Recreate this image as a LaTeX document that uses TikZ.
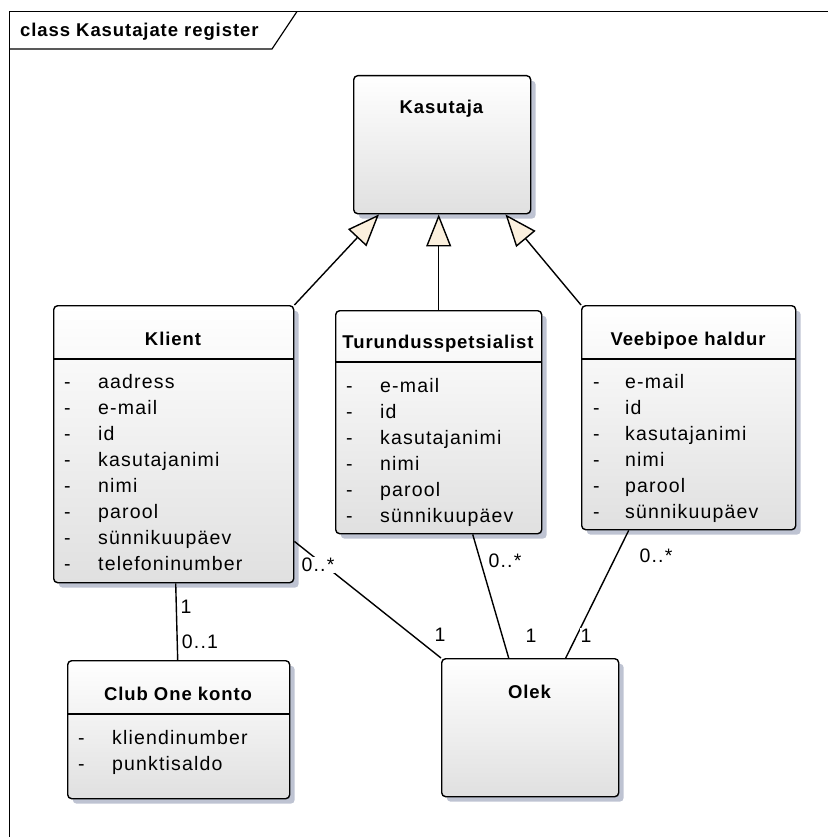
\documentclass[tikz,border=0pt]{standalone}
\usepackage{fontspec}
\setmainfont{Liberation Sans}
\newfontfamily\umlfont{Liberation Sans}[LetterSpace=6]
\newfontfamily\umlboldfont{Liberation Sans}[LetterSpace=5]
\usetikzlibrary{arrows.meta,shadows,calc}

\definecolor{shadowblue}{RGB}{190,195,210}
\definecolor{boxgray}{RGB}{224,224,224}
\definecolor{gencream}{RGB}{251,240,222}

\tikzset{
  classbox/.style={draw=black, line width=1.4pt, rounded corners=4pt,
    top color=white, bottom color=boxgray,
    drop shadow={shadow xshift=5pt, shadow yshift=-5pt, fill=shadowblue, opacity=1},
    inner sep=0pt, anchor=north west},
  ctitle/.style={font=\umlboldfont\bfseries\fontsize{18.5}{22}\selectfont, anchor=base, inner sep=0pt},
  attr/.style={font=\umlfont\fontsize{19.5}{22}\selectfont, anchor=base west, inner sep=0pt},
  mult/.style={font=\umlfont\fontsize{19.5}{22}\selectfont, fill=white, inner sep=1pt},
  assoc/.style={draw=black, line width=1.4pt},
  generalize/.style={draw=black, line width=1.4pt,
    -{Triangle[length=32pt,width=25pt,fill=gencream]}},
  sepline/.style={draw=black, line width=1.4pt},
}

\begin{document}
\begin{tikzpicture}[x=1pt, y=-1pt]
\useasboundingbox (0,0) rectangle (828,837);

% diagram frame with its name tab
\draw[line width=1.2pt] (9.5,837) -- (9.5,11.5) -- (828,11.5);
\draw[line width=1.2pt] (9.5,49) -- (272,49) -- (297,11.5);
\node[ctitle, anchor=base west] (frametitle) at (20,37) {class Kasutajate register};

% classes
\node[classbox, minimum width=177pt, minimum height=138pt] (kas) at (353,75) {};
\node[classbox, minimum width=240pt, minimum height=277pt] (klient) at (53,305) {};
\node[classbox, minimum width=206pt, minimum height=223pt] (tur) at (335,310) {};
\node[classbox, minimum width=214pt, minimum height=224pt] (veeb) at (581,305) {};
\node[classbox, minimum width=222pt, minimum height=138pt] (club) at (67,660) {};
\node[classbox, minimum width=177pt, minimum height=138pt] (olek) at (441,658) {};

% compartment separators
\draw[sepline] ([yshift=-54pt]klient.north west) -- ([yshift=-54pt]klient.north east);
\draw[sepline] ([yshift=-52pt]tur.north west) -- ([yshift=-52pt]tur.north east);
\draw[sepline] ([yshift=-54pt]veeb.north west) -- ([yshift=-54pt]veeb.north east);
\draw[sepline] ([yshift=-54pt]club.north west) -- ([yshift=-54pt]club.north east);

% class names
\node[ctitle] (kas-t) at (441.5,114) {Kasutaja};
\node[ctitle] (klient-t) at (173,345) {Klient};
\node[ctitle] (tur-t) at (438,348) {Turundusspetsialist};
\node[ctitle] (veeb-t) at (688,345) {Veebipoe haldur};
\node[ctitle] (club-t) at (178,700) {Club One konto};
\node[ctitle] (olek-t) at (529.5,698) {Olek};

% attributes
\foreach \a [count=\i] in {aadress,e-mail,id,kasutajanimi,nimi,parool,sünnikuupäev,telefoninumber}{
  \node[attr] (klient-d\i) at (64,{388+26*(\i-1)}) {-};
  \node[attr] (klient-a\i) at (98,{388+26*(\i-1)}) {\a};
}
\foreach \a [count=\i] in {e-mail,id,kasutajanimi,nimi,parool,sünnikuupäev}{
  \node[attr] (tur-d\i) at (346,{392+26*(\i-1)}) {-};
  \node[attr] (tur-a\i) at (380,{392+26*(\i-1)}) {\a};
  \node[attr] (veeb-d\i) at (593,{388+26*(\i-1)}) {-};
  \node[attr] (veeb-a\i) at (625,{388+26*(\i-1)}) {\a};
}
\foreach \a [count=\i] in {kliendinumber,punktisaldo}{
  \node[attr] (club-d\i) at (78,{744+26*(\i-1)}) {-};
  \node[attr] (club-a\i) at (112,{744+26*(\i-1)}) {\a};
}

% generalizations
\draw[generalize] (klient.north east) -- ([xshift=26pt]kas.south west);
\draw[generalize] (tur.north) -- (tur.north |- kas.south);
\draw[generalize] (veeb.north west) -- ([xshift=-26pt]kas.south east);

% associations
\draw[assoc] ([xshift=2pt]klient.south) -- ([xshift=-1pt]club.north);
\draw[assoc] ([yshift=42pt]klient.south east) -- (olek.north west);
\draw[assoc] ([xshift=34pt]tur.south) -- ([xshift=-21.5pt]olek.north);
\draw[assoc] ([xshift=-60pt]veeb.south) -- ([xshift=35.5pt]olek.north);

% multiplicities
\node[mult] (m-kc1) at (186,607) {1};
\node[mult] (m-kc2) at (200,642) {0..1};
\node[mult] (m-ko1) at (318,565) {0..*};
\node[mult] (m-ko2) at (440,635) {1};
\node[mult] (m-to1) at (505,561) {0..*};
\node[mult] (m-to2) at (531,636) {1};
\node[mult] (m-vo1) at (656,556) {0..*};
\node[mult] (m-vo2) at (586,636) {1};
\end{tikzpicture}
\end{document}
